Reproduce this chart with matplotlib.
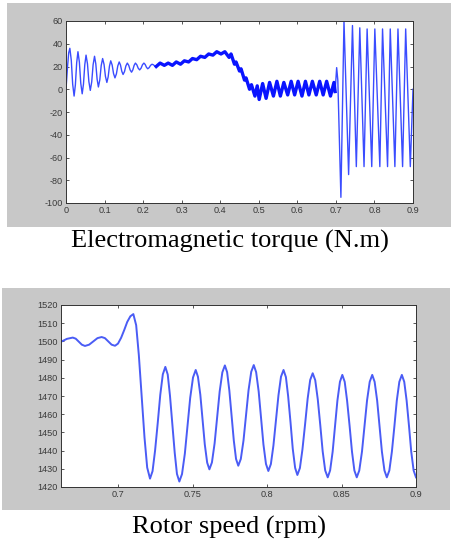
import matplotlib.pyplot as plt
from matplotlib.patches import Rectangle

# electromagnetic torque (N.m) against time (s)
torque_t = [0.000, 0.004, 0.007, 0.010, 0.0137, 0.0173, 0.021, 0.0243, 0.0277, 0.031,
            0.0347, 0.0383, 0.042, 0.0453, 0.0487, 0.052, 0.0557, 0.0593, 0.063, 0.0667,
            0.0703, 0.074, 0.0773, 0.0807, 0.084, 0.0877, 0.0913, 0.095, 0.0987, 0.1023,
            0.106, 0.1093, 0.1127, 0.116, 0.1197, 0.1233, 0.127, 0.1307, 0.1343, 0.138,
            0.1413, 0.1447, 0.148, 0.1517, 0.1553, 0.159, 0.1627, 0.1663, 0.170, 0.1733,
            0.1767, 0.180, 0.1837, 0.1873, 0.191, 0.1947, 0.1983, 0.202, 0.2053, 0.2087,
            0.212, 0.2157, 0.2193, 0.223, 0.2267, 0.2303,
            0.234, 0.244, 0.255, 0.265, 0.276, 0.286, 0.297, 0.307,
            0.318, 0.328, 0.339, 0.349, 0.360, 0.370, 0.381, 0.391, 0.402, 0.412,
            0.423, 0.428, 0.437, 0.441, 0.450, 0.454, 0.463, 0.467, 0.476, 0.481,
            0.490, 0.496, 0.501, 0.510, 0.519, 0.528, 0.538, 0.547, 0.556, 0.565,
            0.575, 0.584, 0.593, 0.602, 0.612, 0.621, 0.630, 0.639, 0.649, 0.658,
            0.667, 0.676, 0.686, 0.695, 0.698, 0.702, 0.705, 0.713, 0.721, 0.733,
            0.743, 0.753, 0.762, 0.773, 0.781, 0.793, 0.801, 0.814, 0.821, 0.834,
            0.841, 0.853, 0.861, 0.873, 0.881, 0.893, 0.900]
torque_v = [0, 20, 32, 36, 25.5, 4.5, -6, 3.8, 23.3, 33,
            23.8, 5.3, -4, 4.5, 21.5, 30, 22.3, 6.8, -1, 6.5,
            21.5, 29, 22.3, 8.8, 2, 8.3, 20.8, 27, 21.8, 11.3,
            6, 10.8, 20.3, 25, 21.3, 13.8, 10, 13.5, 20.5, 24,
            21.3, 15.8, 13, 15.5, 20.5, 23, 21, 17, 15, 17,
            21, 23, 21.5, 18.5, 17, 18.5, 21.5, 23, 21.8, 19.3,
            18, 19, 21, 22, 21.5, 20.5,
            20, 23, 21, 23, 21, 24, 22, 25,
            24, 27, 26, 29, 28, 31, 30, 33, 31, 33,
            28, 31, 22, 24, 16, 18, 8, 10, 0, 4,
            -6, 3, -9, 5, -8, 6, -6, 7, -6, 6,
            -5, 7, -5, 7, -6, 7, -5, 7, -5, 7,
            -5, 7, -6, 6, -2, 19, 8, -95, 60, -75,
            56, -68, 54, -68, 53, -68, 53, -68, 53, -68,
            53, -68, 53, -68, 53, -68, 0]

# rotor speed (rpm) against time (s)
speed_t = [0.6615, 0.6655, 0.6694, 0.6714, 0.6735, 0.6755, 0.6776, 0.6804, 0.6832, 0.6860,
           0.6888, 0.6910, 0.6933, 0.6955, 0.6978, 0.6998, 0.7019, 0.7040, 0.7060, 0.7081,
           0.7101, 0.7120, 0.7138, 0.7157, 0.7176, 0.7194, 0.7213, 0.7230, 0.7247, 0.7265,
           0.7282, 0.7299, 0.7316, 0.7332, 0.7347, 0.7363, 0.7379, 0.7394, 0.7410, 0.7428,
           0.7447, 0.7465, 0.7483, 0.7502, 0.7520, 0.7535, 0.7551, 0.7566, 0.7581, 0.7597,
           0.7612, 0.7629, 0.7647, 0.7664, 0.7681, 0.7699, 0.7716, 0.7731, 0.7746, 0.7761,
           0.7776, 0.7791, 0.7806, 0.7823, 0.7841, 0.7858, 0.7875, 0.7893, 0.7910, 0.7926,
           0.7943, 0.7959, 0.7975, 0.7992, 0.8008, 0.8025, 0.8042, 0.8059, 0.8076, 0.8093,
           0.8110, 0.8126, 0.8141, 0.8157, 0.8172, 0.8188, 0.8203, 0.8220, 0.8237, 0.8255,
           0.8272, 0.8289, 0.8306, 0.8323, 0.8340, 0.8357, 0.8373, 0.8390, 0.8407, 0.8423,
           0.8440, 0.8456, 0.8472, 0.8489, 0.8505, 0.8521, 0.8537, 0.8554, 0.8570, 0.8586,
           0.8602, 0.8619, 0.8637, 0.8654, 0.8671, 0.8689, 0.8706, 0.8722, 0.8739, 0.8755,
           0.8771, 0.8788, 0.8804, 0.8821, 0.8838, 0.8855, 0.8871, 0.8888, 0.8905, 0.8921,
           0.8937, 0.8953, 0.8968, 0.8984, 0.9000]
speed_v = [1499.8, 1501.4, 1502.1, 1501.5, 1499.8, 1498.2, 1497.5, 1498.2, 1500.0, 1501.8,
           1502.4, 1501.8, 1500.0, 1498.2, 1497.6, 1498.8, 1502.0, 1506.3, 1510.7, 1513.8,
           1515.0, 1508.9, 1492.4, 1469.8, 1447.2, 1430.7, 1424.6, 1428.7, 1440.0, 1455.3,
           1470.7, 1481.9, 1486.0, 1481.8, 1470.3, 1454.5, 1438.8, 1427.2, 1423.0, 1427.1,
           1438.3, 1453.7, 1469.0, 1480.2, 1484.3, 1480.6, 1470.7, 1457.0, 1443.4, 1433.4,
           1429.7, 1433.5, 1444.0, 1458.3, 1472.5, 1483.0, 1486.8, 1483.1, 1473.0, 1459.3,
           1445.5, 1435.4, 1431.7, 1435.4, 1445.5, 1459.4, 1473.2, 1483.3, 1487.0, 1483.1,
           1472.5, 1457.9, 1443.4, 1432.7, 1428.8, 1432.6, 1442.7, 1456.6, 1470.4, 1480.6,
           1484.3, 1480.4, 1469.9, 1455.5, 1441.0, 1430.5, 1426.6, 1430.4, 1440.6, 1454.6,
           1468.5, 1478.8, 1482.5, 1478.7, 1468.2, 1453.9, 1439.6, 1429.1, 1425.3, 1429.1,
           1439.4, 1453.5, 1467.5, 1477.8, 1481.6, 1477.8, 1467.5, 1453.5, 1439.4, 1429.1,
           1425.3, 1429.1, 1439.4, 1453.5, 1467.5, 1477.8, 1481.6, 1477.8, 1467.5, 1453.5,
           1439.4, 1429.1, 1425.3, 1429.1, 1439.4, 1453.5, 1467.5, 1477.8, 1481.6, 1477.8,
           1467.5, 1453.5, 1439.4, 1429.1, 1425.3]

torque_xticks = [0, 0.1, 0.2, 0.3, 0.4, 0.5, 0.6, 0.7, 0.8, 0.9]
torque_xlabels = ['0', '0.1', '0.2', '0.3', '0.4', '0.5', '0.6', '0.7', '0.8', '0.9']
torque_yticks = [-100, -80, -60, -40, -20, 0, 20, 40, 60]
speed_xticks = [0.7, 0.75, 0.8, 0.85, 0.9]
speed_xlabels = ['0.7', '0.75', '0.8', '0.85', '0.9']
speed_yticks = [1420, 1430, 1440, 1450, 1460, 1470, 1480, 1490, 1500, 1510, 1520]

captions = ['Electromagnetic torque (N.m)', 'Rotor speed (rpm)']

W, H = 451, 548
fig = plt.figure(figsize=(W / 100, H / 100), dpi=100)
fig.patch.set_facecolor('white')

def px(x0, y0, x1, y1):
    # pixel box (top-left origin) -> figure fraction rect
    return [x0 / W, 1 - y1 / H, (x1 - x0) / W, (y1 - y0) / H]

gray = '#c8c8c8'
for box in [px(7, 3, 451, 227), px(2, 288, 450, 510)]:
    fig.patches.append(Rectangle((box[0], box[1]), box[2], box[3],
                                 transform=fig.transFigure, facecolor=gray,
                                 edgecolor='none', zorder=-5))

def style(ax):
    ax.set_facecolor('white')
    ax.set_zorder(2)
    for s in ax.spines.values():
        s.set_linewidth(0.7)
        s.set_color('#333333')
    ax.tick_params(direction='in', length=2.5, width=0.6, pad=2.5,
                   top=True, right=True, labelsize=6.6, colors='#3a3a3a',
                   labelcolor='#3a3a3a')
    for lab in ax.get_xticklabels() + ax.get_yticklabels():
        lab.set_family('Liberation Sans')

# torque panel
ax1 = fig.add_axes(px(66, 21, 413, 203))
ax1.plot(torque_t, torque_v, color='#3a4cff', lw=1.0)
thick = [i for i, t in enumerate(torque_t) if 0.234 <= t <= 0.698]
ax1.plot([torque_t[i] for i in thick], [torque_v[i] for i in thick],
         color='#0a14ff', lw=2.4, solid_joinstyle='round')
ax1.set_xlim(0, 0.9)
ax1.set_ylim(-100, 60)
ax1.set_xticks(torque_xticks)
ax1.set_xticklabels(torque_xlabels)
ax1.set_yticks(torque_yticks)
ax1.set_yticklabels([str(v) for v in torque_yticks])
style(ax1)

# speed panel
ax2 = fig.add_axes(px(61, 305, 416, 487))
ax2.plot(speed_t, speed_v, color='#4a5cf5', lw=1.4)
ax2.set_xlim(0.6615, 0.9)
ax2.set_ylim(1420, 1520)
ax2.set_xticks(speed_xticks)
ax2.set_xticklabels(speed_xlabels)
ax2.set_yticks(speed_yticks)
ax2.set_yticklabels([str(v) for v in speed_yticks])
style(ax2)

fig.text(230 / W, 1 - 248 / H, captions[0], ha='center', va='baseline',
         fontsize=19, family='Liberation Serif')
fig.text(229 / W, 1 - 534 / H, captions[1], ha='center', va='baseline',
         fontsize=19, family='Liberation Serif')

fig.savefig('out.png', dpi=100)
